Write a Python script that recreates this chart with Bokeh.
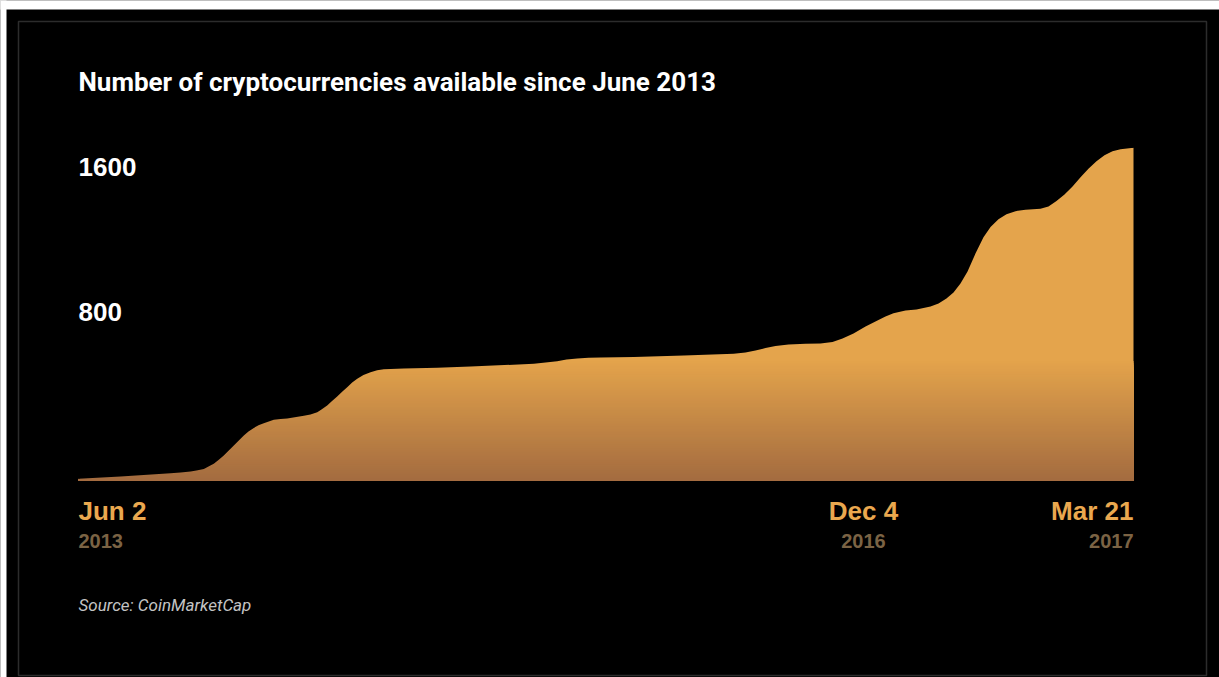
import numpy as np
from bokeh.plotting import figure
from bokeh.models import Range1d
from bokeh.embed import file_html
from bokeh.resources import INLINE
from bokeh.core.properties import value

# ---------------- data ----------------
TITLE = "Number of cryptocurrencies available since June 2013"
SOURCE = "Source: CoinMarketCap"

# position along the period (0 = Jun 2 2013, 100 = Mar 21 2017)
T = [0, 3.98, 8.72, 9.67, 10.62, 11.18, 11.88, 12.32, 12.82, 13.27, 13.77,
     14.72, 15.67, 16.11, 16.62, 17.06, 17.56, 18.51, 19.15, 19.78, 21.36,
     21.99, 22.63, 23.03, 23.57, 23.98, 24.52, 24.99, 25.47, 25.94, 26.42,
     27.01, 27.68, 28.31, 28.94, 30.83, 34.0, 37.16, 43.16, 44.27, 45.37,
     46.26, 47.27, 48.34, 49.48, 52.64, 57.37, 62.1, 63.22, 64.17, 65.12,
     66.07, 67.3, 68.91, 70.33, 71.47, 72.42, 73.46, 74.6, 75.73, 76.49,
     77.25, 78.39, 79.43, 80.76, 81.52, 82.27, 82.94, 83.60, 84.27, 85.02,
     85.78, 86.45, 87.20, 87.96, 88.82, 89.76, 91.18, 91.94, 92.70, 93.46,
     94.22, 94.98, 95.73, 96.49, 97.25, 98.01, 98.77, 100]
COUNTS = [9, 22, 40, 44, 50, 55, 64, 77, 92, 113, 138,
          193, 248, 270, 290, 305, 316, 335, 340, 342, 357,
          364, 377, 392, 414, 436, 463, 489, 515, 541, 561,
          582, 597, 608, 614, 618, 622, 629, 644, 651, 658,
          668, 673, 677, 679, 682, 690, 699, 706, 717, 731,
          742, 750, 754, 756, 764, 783, 811, 850, 883, 905,
          923, 938, 944, 960, 977, 1004, 1037, 1087, 1153, 1252,
          1342, 1398, 1442, 1469, 1486, 1494, 1499, 1512, 1542, 1578,
          1622, 1673, 1720, 1761, 1794, 1816, 1828, 1836]

Y_TICKS = [800, 1600]
Y_TICK_LABELS = ["800", "1600"]

DATE_POS = [0, 74.4, 100]
DATE_DAY = ["Jun 2", "Dec 4", "Mar 21"]
DATE_YEAR = ["2013", "2016", "2017"]
DATE_ALIGN = ["left", "center", "right"]

# ---------------- layout ----------------
W, H = 1219, 677
PAGE_X, PAGE_Y = 0, 0
X0_PAGE, X1_PAGE = 78, 1133      # page px of t=0 and t=100
Y0_PAGE = 480                    # page px of value 0
K = 0.18125                      # px per count
XK = (X1_PAGE - X0_PAGE) / 100.0 # px per t unit


def px(page_x):
    return (page_x - X0_PAGE) / XK


def py(page_y):
    return (Y0_PAGE - page_y) / K


p = figure(width=W, height=H, output_backend="svg", toolbar_location=None,
           x_range=Range1d(px(PAGE_X), px(PAGE_X + W)),
           y_range=Range1d(py(PAGE_Y + H), py(PAGE_Y)),
           min_border=0, background_fill_color="#000000",
           border_fill_color="#000000", outline_line_color=None)
p.axis.visible = False
p.grid.visible = False

# white page strips (top and left) as in the screenshot
p.quad(left=[px(-2)], right=[px(W + 2)], top=[py(-2)], bottom=[py(9)],
       fill_color="#ffffff", line_color=None)
p.quad(left=[px(-2)], right=[px(6)], top=[py(-2)], bottom=[py(H + 2)],
       fill_color="#ffffff", line_color=None)

# thin frame border
p.quad(left=[px(18)], right=[px(1206)], top=[py(21)], bottom=[py(675)],
       fill_color=None, line_color="#2c2c2c", line_width=1.5)

# vertical gradient emulated with overlapping bands, then masked above the curve
top_val = max(COUNTS)
grad_top = 660
n = 60
edges = np.linspace(0, grad_top, n + 1)
c_bot = np.array([164, 108, 64])
c_top = np.array([228, 164, 76])
cols = []
for i in range(n):
    f = (i + 0.5) / n
    c = (c_bot + (c_top - c_bot) * f).astype(int)
    cols.append("#%02x%02x%02x" % tuple(c))
p.quad(left=[T[0]], right=[T[-1]], bottom=[0], top=[top_val],
       fill_color="#e4a44c", line_color=None)
p.quad(left=T[0], right=T[-1], bottom=0, top=list(edges[1:][::-1]),
       fill_color=cols[::-1], line_color=None)
p.varea(x=T, y1=COUNTS, y2=top_val + 5, fill_color="#000000")
# tidy the left edge of the filled region
p.quad(left=[px(30)], right=[T[0] + 1.0 / XK], bottom=[COUNTS[0]], top=[top_val + 5],
       fill_color="#000000", line_color=None)

# title
p.text(x=[px(78)], y=[py(81)], text=[TITLE], text_color="#ffffff",
       text_font=value("Roboto"), text_font_style="bold", text_font_size="26px",
       text_align="left", text_baseline="alphabetic")

# y tick labels (sit above their value)
p.text(x=[px(78)] * len(Y_TICKS), y=[v + 24 / K for v in Y_TICKS],
       text=Y_TICK_LABELS, text_color="#ffffff",
       text_font=value("Liberation Sans"), text_font_style="bold",
       text_font_size="26px", text_align="left", text_baseline="alphabetic")

# date labels
for xpos, d, yr, al in zip(DATE_POS, DATE_DAY, DATE_YEAR, DATE_ALIGN):
    p.text(x=[xpos], y=[py(510)], text=[d], text_color="#eaa84f",
           text_font=value("Liberation Sans"), text_font_style="bold",
           text_font_size="26px", text_align=al, text_baseline="alphabetic")
    p.text(x=[xpos], y=[py(540)], text=[yr], text_color="#7b6344",
           text_font=value("Liberation Sans"), text_font_style="bold",
           text_font_size="20px", text_align=al, text_baseline="alphabetic")

# source
p.text(x=[px(78)], y=[py(604)], text=[SOURCE], text_color="#c4c4c4",
       text_font=value("Roboto"), text_font_style="italic", text_font_size="17px",
       text_align="left", text_baseline="alphabetic")

open("out.html", "w").write(file_html(p, INLINE))
